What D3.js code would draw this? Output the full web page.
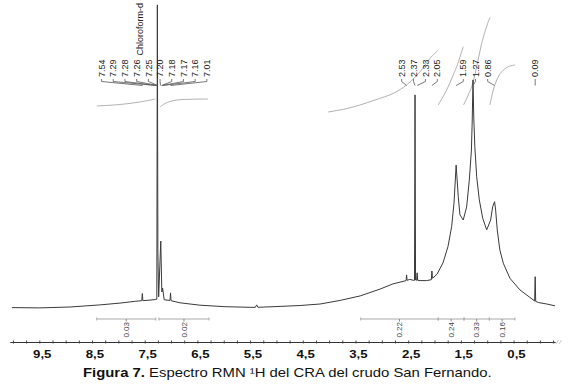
<!DOCTYPE html>
<html>
<head>
<meta charset="utf-8">
<script src="https://cdn.jsdelivr.net/npm/d3@7"></script>
<style>
  body { margin: 0; background: #fff; }
  svg { display: block; font-family: "Liberation Sans", Arial, sans-serif; }
</style>
</head>
<body>
<div id="chart"></div>
<script>
// trace of the 1H spectrum (ppm / relative intensity)
var specPpm = [10.02, 9.49, 8.92, 8.35, 7.97, 7.68, 7.555, 7.545, 7.535, 7.40, 7.30, 7.27, 7.26, 7.25,
  7.235, 7.195, 7.175, 7.16, 7.13, 7.02, 7.01, 7.00, 6.83, 6.45, 5.975, 5.50, 5.40, 5.375, 5.35,
  4.93, 4.55, 4.17, 3.79, 3.41, 3.03, 2.79, 2.56, 2.54, 2.53, 2.52, 2.47, 2.40, 2.38, 2.37, 2.36,
  2.34, 2.33, 2.32, 2.275, 2.15, 2.06, 2.05, 2.04, 2.01, 1.95, 1.84, 1.745, 1.675, 1.63, 1.59,
  1.55, 1.517, 1.455, 1.39, 1.34, 1.30, 1.285, 1.27, 1.255, 1.235, 1.20, 1.15, 1.086, 1.01, 0.935,
  0.897, 0.86, 0.84, 0.81, 0.76, 0.695, 0.57, 0.38, 0.19, 0.10, 0.09, 0.08, 0.03, -0.13, -0.285];
var specInt = [0.8, 0.7, 1.0, 1.7, 2.3, 2.9, 3.1, 5.5, 3.1, 3.3, 3.5, 3.6, 101.7, 19.3,
  4.4, 23, 6, 7.3, 3.4, 3.2, 5.7, 3.1, 2.4, 1.6, 1.1, 0.9, 0.9, 1.7, 0.9,
  1.2, 1.5, 2.0, 3.2, 4.7, 7.0, 8.7, 9.7, 9.8, 11.7, 9.9, 10.2, 9.9, 9.9, 71.7, 10.0,
  9.9, 12.4, 9.9, 9.8, 9.8, 10.1, 13.0, 10.6, 11.0, 12.0, 15.7, 21.1, 27.8, 35.7, 48.3,
  37.8, 31.7, 30.0, 34.4, 43.3, 53.3, 63, 76.7, 64, 54.4, 44.4, 36.7, 30.6, 26.7, 30,
  34.4, 36.1, 33.3, 26.7, 20, 15.6, 10.6, 6.7, 4.2, 3.0, 11.1, 2.9, 2.5, 2.0, 1.4];

// peak labels, grouped the way they are fanned out above the spectrum
var peakGroups = [
  ["7.54", "7.29", "7.28", "7.26", "7.25", "7.20", "7.18", "7.17", "7.16", "7.01"],
  ["2.53", "2.37", "2.33", "2.05"],
  ["1.59", "1.27", "0.86"],
  ["0.09"]
];
var solventName = "Chloroform-d";
var solventPeak = "7.26";

// integration regions (ppm from, ppm to) and their values
var integralFrom = [8.41, 7.23, 3.40, 1.93, 1.44, 0.96];
var integralTo = [7.29, 6.28, 1.93, 1.44, 0.96, 0.475];
var integralValues = ["0.03", "0.02", "0.22", "0.24", "0.33", "0.16"];

// integral curves (ppm, running integral)
var integralCurves = [
  [[8.41, 4], [7.97, 5.5], [7.59, 8], [7.30, 11]],
  [[7.21, 3], [7.115, 6.5], [7.02, 8.5], [6.89, 10], [6.64, 10.7], [6.30, 11]],
  [[4.02, -2], [3.70, 1], [3.415, 5], [3.13, 10], [2.78, 16.7], [2.53, 25], [2.275, 38.3], [2.085, 51.7], [1.93, 60]],
  [[1.93, 5], [1.77, 20], [1.67, 32], [1.58, 43.3], [1.455, 63.3]],
  [[1.45, 5], [1.295, 23.3], [1.20, 43.3], [1.105, 66.7], [0.98, 88.3], [0.94, 93]],
  [[0.95, 5], [0.885, 20], [0.82, 30], [0.725, 38.3], [0.60, 43.3], [0.47, 45]]
];

var axisLabels = [9.5, 8.5, 7.5, 6.5, 5.5, 4.5, 3.5, 2.5, 1.5, 0.5];

var width = 580, height = 390;
var labelGap = [11.7, 11.9, 12.2, 0];
var labelShift = [-4.5, 1.8, 0.9, 0];

var svg = d3.select("#chart").append("svg")
    .attr("width", width)
    .attr("height", height);

var x = d3.scaleLinear().domain([10.06, -0.29]).range([9.8, 555.2]);
var y = d3.scaleLinear().domain([0, 100]).range([310, 10]);
var yInt = d3.scaleLinear().domain([0, 100]).range([110, 10]);

// integral curves
var intLine = d3.line()
    .x(function (d) { return x(d[0]); })
    .y(function (d) { return yInt(d[1]); })
    .curve(d3.curveCatmullRom);

svg.append("g").selectAll("path")
    .data(integralCurves)
    .join("path")
    .attr("d", intLine)
    .attr("fill", "none")
    .attr("stroke", "#a8a8a8")
    .attr("stroke-width", 0.9);

// spectrum
var spec = specPpm.map(function (p, i) { return [p, specInt[i]]; });
svg.append("path")
    .datum(spec)
    .attr("d", d3.line().x(function (d) { return x(d[0]); }).y(function (d) { return y(d[1]); }))
    .attr("fill", "none")
    .attr("stroke", "#3a3a3a")
    .attr("stroke-width", 1);

// peak labels with their connectors
var labels = svg.append("g")
    .attr("font-size", 9)
    .attr("fill", "#222");

peakGroups.forEach(function (grp, gi) {
    var px = grp.map(function (v) { return x(+v); });
    var c = d3.mean(px) + labelShift[gi];
    grp.forEach(function (v, i) {
        var lx = c + (i - (grp.length - 1) / 2) * labelGap[gi];
        labels.append("text")
            .attr("transform", "translate(" + lx + ",59.5) rotate(-90)")
            .attr("text-anchor", "end")
            .attr("dy", "0.35em")
            .text(v);
        labels.append("path")
            .attr("d", "M" + lx + ",79V81.5L" + px[i] + ",85.5")
            .attr("fill", "none")
            .attr("stroke", "#555")
            .attr("stroke-width", 0.8);
        if (v === solventPeak) {
            // solvent name sits on top of its shift value
            labels.append("text")
                .attr("transform", "translate(" + (lx + 3.5) + ",55.5) rotate(-90)")
                .attr("text-anchor", "start")
                .attr("dy", "0.35em")
                .text(solventName);
        }
    });
});

// integration bars under the spectrum
var bars = svg.append("g").attr("stroke", "#aaa").attr("stroke-width", 1);
integralFrom.forEach(function (f, i) {
    var x0 = x(f), x1 = x(integralTo[i]), xm = x((f + integralTo[i]) / 2);
    bars.append("line").attr("x1", x0).attr("x2", x1).attr("y1", 319).attr("y2", 319);
    bars.append("line").attr("x1", x0).attr("x2", x0).attr("y1", 317.5).attr("y2", 320.5);
    bars.append("line").attr("x1", x1).attr("x2", x1).attr("y1", 317.5).attr("y2", 320.5);
    bars.append("line").attr("x1", xm).attr("x2", xm).attr("y1", 319).attr("y2", 321.5).attr("stroke", "#888");
    svg.append("text")
        .attr("transform", "translate(" + xm + ",322) rotate(-90)")
        .attr("text-anchor", "end")
        .attr("dy", "0.35em")
        .attr("font-size", 8)
        .attr("fill", "#444")
        .text(integralValues[i]);
});

// ppm axis
var axisG = svg.append("g").attr("transform", "translate(0,342)");
axisG.call(d3.axisBottom(x)
    .tickValues(d3.range(-0.25, 10.01, 0.25))
    .tickSize(2)
    .tickSizeOuter(0)
    .tickFormat(""));
axisG.select(".domain").attr("stroke", "#333");
axisG.selectAll(".tick line").attr("y1", -1.5).attr("y2", 1.5).attr("stroke", "#444");

var labG = svg.append("g").attr("transform", "translate(0,342)");
labG.call(d3.axisBottom(x)
    .tickValues(axisLabels)
    .tickSize(0)
    .tickFormat(function (d) { return d3.format(".1f")(d).replace(".", ","); }));
labG.select(".domain").remove();
labG.selectAll(".tick text")
    .attr("y", 16.4)
    .attr("dy", null)
    .attr("x", 2)
    .attr("transform", "scale(1.2,1)")
    .attr("font-family", "Liberation Sans, Arial, sans-serif")
    .attr("font-size", 11)
    .attr("font-weight", "bold")
    .attr("fill", "#111");

// axis break mark
svg.append("path")
    .attr("d", "M556,344L558.5,340M559,344L561.5,340")
    .attr("stroke", "#bbb")
    .attr("stroke-width", 0.8);

// caption
var cap = svg.append("text")
    .attr("transform", "translate(83,377) scale(1.19,1)")
    .attr("font-size", 12.5)
    .attr("fill", "#111");
cap.append("tspan").attr("font-weight", "bold").text("Figura 7.");
cap.append("tspan").text(" Espectro RMN \u00B9H del CRA del crudo San Fernando.");
</script>
</body>
</html>
